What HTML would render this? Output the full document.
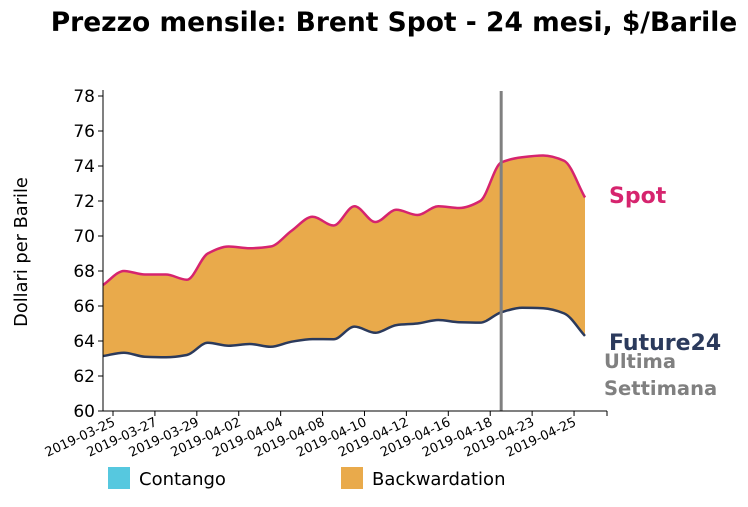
<!DOCTYPE html>
<html><head><meta charset="utf-8"><style>
body{margin:0;background:#fff;font-family:"Liberation Sans","DejaVu Sans",sans-serif}
svg text{font-family:"DejaVu Sans","Liberation Sans",sans-serif}
</style></head><body>
<svg id="c" width="748" height="502">
<text x="394" y="31" text-anchor="middle" font-size="26.5" font-weight="bold">Prezzo mensile: Brent Spot - 24 mesi, $/Barile</text>
<text transform="translate(27,252) rotate(-90)" text-anchor="middle" font-size="17.8">Dollari per Barile</text>
<g id="area"></g><g id="axes"></g>
<text x="609" y="203" font-size="22" font-weight="bold" fill="#d6246e">Spot</text>
<text x="609" y="350" font-size="22" font-weight="bold" fill="#2b3a5c">Future24</text>
<text x="604" y="368" font-size="19.5" font-weight="bold" fill="#808080">Ultima</text>
<text x="604" y="395" font-size="19.5" font-weight="bold" fill="#808080">Settimana</text>
<rect x="108" y="467" width="22" height="22" fill="#56c8df"/>
<text x="139" y="485" font-size="18">Contango</text>
<rect x="341" y="467" width="22" height="22" fill="#e9aa4b"/>
<text x="372" y="485" font-size="18">Backwardation</text>
</svg>
<script>
const dates=["2019-03-25","2019-03-26","2019-03-27","2019-03-28","2019-03-29","2019-04-01","2019-04-02","2019-04-03","2019-04-04","2019-04-05","2019-04-08","2019-04-09","2019-04-10","2019-04-11","2019-04-12","2019-04-15","2019-04-16","2019-04-17","2019-04-18","2019-04-22","2019-04-23","2019-04-24","2019-04-25","2019-04-26"];
const spot=[67.2,68.0,67.8,67.8,67.5,69.0,69.4,69.3,69.4,70.3,71.1,70.6,71.7,70.8,71.5,71.2,71.7,71.6,72.0,74.2,74.5,74.6,74.3,72.2];
const future24=[63.14,63.33,63.1,63.07,63.2,63.9,63.73,63.83,63.67,63.96,64.11,64.1,64.82,64.47,64.91,65.0,65.2,65.07,65.05,65.64,65.9,65.87,65.58,64.29];
const yTicks=[60,62,64,66,68,70,72,74,76,78];
const tickLabels=["2019-03-25","2019-03-27","2019-03-29","2019-04-02","2019-04-04","2019-04-08","2019-04-10","2019-04-12","2019-04-16","2019-04-18","2019-04-23","2019-04-25"];
const markerIndex=19;
const NS="http://www.w3.org/2000/svg";
const x=i=>103+i*(585-103)/(dates.length-1);
const y=v=>411-(v-60)*(411-96)/18;
function mk(t,a,p){const e=document.createElementNS(NS,t);for(const k in a)e.setAttribute(k,a[k]);p.appendChild(e);return e;}
function monotone(xs,ys){const n=xs.length,d=[],m=[];for(let i=0;i<n-1;i++)d.push((ys[i+1]-ys[i])/(xs[i+1]-xs[i]));m[0]=d[0];m[n-1]=d[n-2];
for(let i=1;i<n-1;i++){if(d[i-1]*d[i]<=0)m[i]=0;else{const h0=xs[i]-xs[i-1],h1=xs[i+1]-xs[i];m[i]=(3*(h0+h1))/((2*h1+h0)/d[i-1]+(h1+2*h0)/d[i]);}}
let s="";for(let i=0;i<n-1;i++){const h=(xs[i+1]-xs[i])/3;s+=` C${xs[i]+h},${ys[i]+m[i]*h} ${xs[i+1]-h},${ys[i+1]-m[i+1]*h} ${xs[i+1]},${ys[i+1]}`;}return s;}
const xs=dates.map((_,i)=>x(i)),sy=spot.map(y),fy=future24.map(y);
const area=document.getElementById('area'),axes=document.getElementById('axes');
const rxs=xs.slice().reverse(),rfy=fy.slice().reverse();
const fill=mk('path',{d:`M${xs[0]},${sy[0]}`+monotone(xs,sy)+` L${rxs[0]},${rfy[0]}`+monotone(rxs,rfy)+'Z',fill:'#e9aa4b'},area);


const ls=mk('path',{d:`M${xs[0]},${sy[0]}`+monotone(xs,sy),fill:'none',stroke:'#d6246e','stroke-width':2.5},area);


const lf=mk('path',{d:`M${xs[0]},${fy[0]}`+monotone(xs,fy),fill:'none',stroke:'#2b3a5c','stroke-width':2.5},area);


const vl=mk('line',{x1:x(markerIndex),x2:x(markerIndex),y1:91,y2:411,stroke:'#808080','stroke-width':3},area);


mk('line',{x1:103,x2:103,y1:90,y2:411,stroke:'#000'},axes);
mk('line',{x1:103,x2:607,y1:411,y2:411,stroke:'#000'},axes);
mk('line',{x1:607,x2:607,y1:411,y2:416,stroke:'#000'},axes);
yTicks.forEach(v=>{mk('line',{x1:98,x2:103,y1:y(v),y2:y(v),stroke:'#000'},axes);
const t=mk('text',{x:95,y:y(v)+6,'text-anchor':'end','font-size':17},axes);t.textContent=v;

});
tickLabels.forEach((lab,k)=>{const i=dates.indexOf(lab);const tx=(i>=0?x(i):x(2*k))+10;
mk('line',{x1:tx,x2:tx,y1:411,y2:416,stroke:'#000'},axes);
const t=mk('text',{x:tx+3,y:425,'text-anchor':'end','font-size':13,transform:`rotate(-25 ${tx+3} 425)`},axes);t.textContent=lab;

});
</script>
</body></html>
